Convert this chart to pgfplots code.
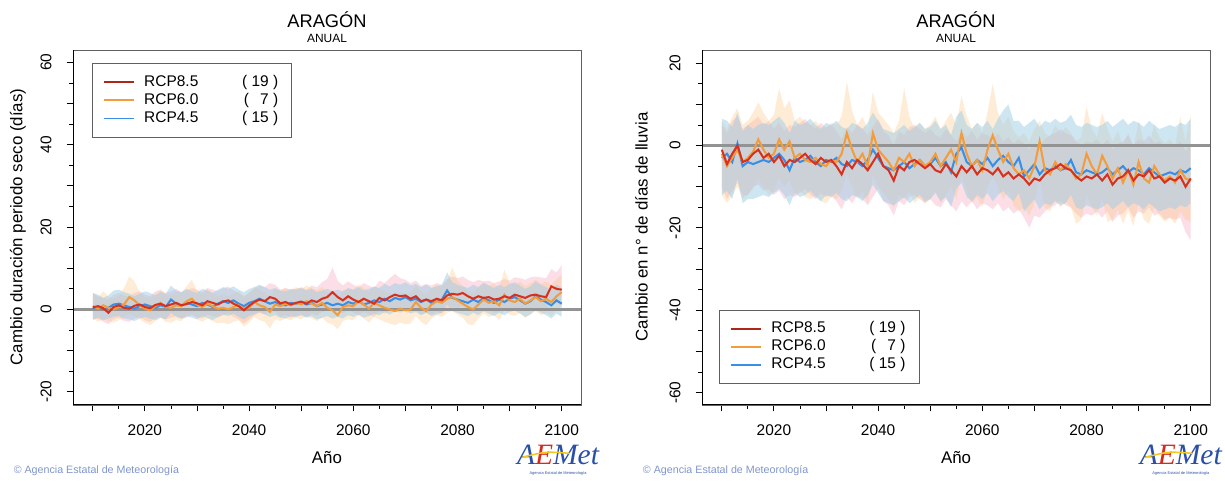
\documentclass[border=0pt]{standalone}
\usepackage{fontspec}
\setmainfont{Liberation Sans}
\newfontfamily\logofont{Liberation Serif}
\usepackage{pgfplots}
\usepackage{pgfplotstable}
\pgfplotsset{compat=1.18}
\usepgfplotslibrary{fillbetween}

\definecolor{c85}{HTML}{D7301F}
\definecolor{c60}{HTML}{F39C3C}
\definecolor{c45}{HTML}{3A8EE6}
\definecolor{b85}{HTML}{F4A3BA}
\definecolor{b60}{HTML}{FDC98C}
\definecolor{b45}{HTML}{9CCDE6}
\definecolor{aemblue}{HTML}{2A4FA8}
\definecolor{aemred}{HTML}{D42A20}
\definecolor{aemyellow}{HTML}{F2C81E}

% year, medias por escenario y rango (min/max) de cada uno
\pgfplotstableread{
year r85 r60 r45 lo85 hi85 lo60 hi60 lo45 hi45
2010 0.5 0.8 0.2 -2.6 3.8 -2.0 4.2 -2.4 4.0
2011 0.8 0.2 0.6 -2.2 3.2 -3.0 3.0 -2.0 3.6
2012 0.3 1.0 0.0 -3.0 2.8 -2.4 4.4 -2.6 2.8
2013 -0.8 0.4 0.4 -3.6 2.4 -2.8 3.2 -2.2 3.4
2014 0.6 0.0 1.2 -2.4 3.6 -3.2 2.6 -1.8 4.6
2015 1.0 0.6 1.4 -2.0 4.0 -2.6 3.4 -1.6 4.8
2016 0.4 1.2 1.0 -2.8 3.4 -2.0 5.2 -2.2 4.2
2017 0.2 3.0 0.6 -3.0 3.0 -1.0 8.0 -2.4 3.8
2018 0.9 2.2 0.2 -2.2 4.0 -1.6 6.8 -2.8 3.2
2019 1.2 1.0 0.8 -1.8 4.4 -2.4 4.2 -2.2 3.8
2020 0.6 0.2 1.2 -2.6 3.6 -3.2 3.0 -1.8 4.4
2021 0.3 -0.2 0.8 -3.0 3.2 -3.8 2.8 -2.2 4.0
2022 1.1 0.8 0.4 -2.0 4.4 -2.8 3.8 -2.6 3.4
2023 1.4 1.6 1.0 -1.8 4.8 -2.0 4.6 -2.0 4.2
2024 0.8 0.6 0.6 -2.4 4.0 -3.0 3.6 -2.4 3.8
2025 1.2 0.4 2.4 -2.0 4.4 -3.2 3.4 -0.8 5.8
2026 1.6 1.0 1.4 -1.6 5.0 -2.6 4.2 -1.8 4.6
2027 1.0 0.8 1.0 -2.2 4.2 -2.8 4.0 -2.2 4.2
2028 1.3 2.0 1.6 -2.0 4.6 -1.6 5.6 -1.6 5.0
2029 1.8 2.6 1.2 -1.4 5.2 -1.0 7.2 -2.0 4.4
2030 1.5 1.2 0.8 -1.8 4.8 -2.4 4.6 -2.4 4.0
2031 1.0 0.6 1.6 -2.2 4.2 -3.0 3.8 -1.6 5.0
2032 2.0 1.4 1.2 -1.2 5.2 -2.2 5.0 -2.0 4.6
2033 1.6 0.8 0.6 -1.6 4.8 -2.8 4.0 -2.6 4.0
2034 1.2 0.2 1.4 -2.0 4.4 -3.4 3.2 -1.8 4.8
2035 1.9 0.4 2.0 -1.4 5.2 -3.2 3.6 -1.2 5.4
2036 2.2 0.0 1.6 -1.0 5.6 -3.6 3.2 -1.6 5.0
2037 1.4 0.6 2.2 -1.8 4.6 -3.0 3.8 -1.0 5.6
2038 0.8 1.0 1.4 -2.4 4.0 -2.6 4.4 -1.8 4.8
2039 -0.2 0.2 0.8 -3.4 3.0 -4.2 3.4 -2.4 4.2
2040 0.9 0.4 1.6 -2.4 4.2 -3.2 3.8 -1.6 5.0
2041 1.8 1.8 2.0 -1.4 5.0 -1.8 5.6 -1.2 5.4
2042 2.4 1.0 2.6 -0.8 5.8 -2.6 4.6 -0.6 6.0
2043 2.0 0.6 2.0 -1.2 5.4 -3.0 4.2 -1.2 5.4
2044 3.0 -0.6 1.4 -0.2 6.4 -4.6 3.0 -1.8 4.8
2045 2.6 1.2 1.8 -0.6 6.0 -2.4 5.0 -1.4 5.2
2046 1.5 0.8 1.2 -1.8 4.8 -2.8 4.6 -2.0 4.6
2047 1.8 1.4 1.0 -1.4 5.2 -2.2 5.2 -2.2 4.4
2048 1.2 1.0 1.6 -2.0 4.6 -2.6 4.8 -1.6 5.0
2049 1.6 1.6 1.4 -1.6 5.0 -2.0 5.4 -1.8 4.8
2050 1.9 1.2 1.8 -1.2 5.4 -2.4 5.0 -1.4 5.2
2051 1.4 2.0 1.2 -1.8 4.8 -1.6 5.8 -2.0 4.6
2052 2.2 1.4 1.6 -1.0 5.8 -2.2 5.2 -1.6 5.0
2053 1.8 0.8 0.8 -1.4 5.4 -2.8 4.6 -2.4 4.2
2054 2.6 1.6 1.2 -0.6 6.6 -2.0 5.4 -2.0 4.6
2055 3.0 0.4 1.6 -0.2 7.4 -3.2 4.2 -1.6 5.0
2056 4.2 -0.2 1.0 0.8 10.2 -3.6 3.6 -2.2 4.4
2057 3.0 -1.4 1.4 -0.2 7.0 -4.8 2.6 -1.8 4.8
2058 2.2 0.6 1.0 -1.0 5.8 -2.8 4.6 -2.2 4.4
2059 3.2 1.0 1.8 0.0 6.8 -2.4 5.0 -1.4 5.2
2060 2.4 0.8 1.4 -0.8 6.0 -2.6 4.8 -1.8 4.8
2061 1.8 2.0 2.0 -1.4 5.4 -1.4 6.0 -1.2 5.4
2062 2.6 1.2 1.2 -0.6 6.4 -2.2 5.2 -2.0 4.6
2063 2.0 0.2 1.6 -1.2 5.8 -3.2 4.2 -1.6 5.0
2064 1.4 1.6 2.2 -1.8 5.2 -1.8 5.6 -1.0 5.6
2065 2.8 1.0 1.8 -0.4 7.0 -2.4 5.0 -1.4 5.2
2066 2.2 0.4 2.6 -1.0 6.4 -3.0 4.4 -0.6 6.2
2067 3.0 0.0 2.0 -0.2 7.6 -3.4 4.0 -1.2 5.6
2068 3.6 -0.4 2.8 0.4 8.6 -3.8 3.6 -0.4 6.4
2069 3.2 0.2 2.4 0.0 7.6 -3.2 4.2 -0.8 6.0
2070 3.4 -0.2 3.0 0.2 7.2 -3.6 3.8 -0.2 6.6
2071 2.6 0.0 2.2 -0.6 6.4 -3.4 4.0 -1.0 5.8
2072 3.2 1.8 2.6 0.0 7.0 -1.6 5.8 -0.6 6.2
2073 2.0 0.4 1.8 -1.2 5.8 -3.0 4.4 -1.4 5.4
2074 2.4 -0.4 2.4 -0.8 6.2 -3.8 3.6 -0.8 6.0
2075 2.0 1.2 1.6 -1.2 5.8 -2.2 5.2 -1.6 5.2
2076 2.6 2.0 2.0 -0.6 6.4 -1.4 6.0 -1.2 5.6
2077 2.2 1.6 2.4 -1.0 6.0 -1.8 5.6 -0.8 6.0
2078 3.4 2.6 4.6 0.2 7.4 -0.8 6.8 1.2 9.0
2079 3.8 3.0 2.8 0.6 8.0 -0.4 10.2 -0.4 6.6
2080 3.6 2.2 2.4 0.4 7.6 -1.2 7.0 -0.8 6.0
2081 4.0 1.4 2.0 0.8 8.0 -2.0 5.8 -1.2 5.6
2082 3.2 0.6 1.6 0.0 7.2 -3.6 4.6 -1.6 5.2
2083 2.6 0.0 2.4 -0.6 6.6 -3.8 4.0 -0.8 6.0
2084 3.2 1.2 1.8 0.0 7.2 -2.2 5.4 -1.4 5.4
2085 2.8 2.4 2.8 -0.4 6.8 -1.0 6.6 -0.4 6.4
2086 3.0 1.6 2.2 -0.2 7.0 -1.8 5.8 -1.0 5.8
2087 2.4 2.0 1.6 -0.8 6.4 -1.4 6.2 -1.6 5.2
2088 2.6 1.0 2.4 -0.6 6.8 -2.6 5.2 -0.8 6.0
2089 3.2 3.6 1.8 0.0 7.4 -0.2 9.6 -1.4 5.4
2090 2.8 2.2 2.6 -0.4 7.0 -1.2 6.4 -0.6 6.2
2091 3.6 1.8 3.0 0.4 7.8 -1.6 6.0 -0.2 6.6
2092 3.2 2.6 2.2 0.0 7.6 -0.8 6.8 -1.0 5.8
2093 2.8 1.4 1.4 -0.4 7.2 -2.0 5.6 -1.8 5.0
2094 3.4 2.2 2.0 0.2 7.8 -1.2 6.4 -1.2 5.6
2095 3.6 3.0 3.2 0.4 8.0 -0.4 7.2 0.0 6.8
2096 3.2 2.0 2.4 0.0 7.8 -1.4 6.2 -0.8 6.0
2097 3.0 2.6 1.8 -0.2 7.6 -0.8 6.8 -1.4 5.4
2098 5.6 1.8 1.0 2.0 9.8 -1.6 6.0 -2.2 4.6
2099 5.0 3.2 2.2 1.4 9.0 -0.2 7.4 -1.0 6.0
2100 4.8 4.2 1.4 1.0 10.8 0.8 8.4 -1.8 5.2
}\seco

\pgfplotstableread{
year r85 r60 r45 lo85 hi85 lo60 hi60 lo45 hi45
2010 -1.0 -2.0 -3.0 -10.0 5.0 -12.0 6.0 -12.0 6.5
2011 -4.5 -5.0 -2.0 -13.0 3.0 -14.0 4.0 -11.0 6.0
2012 -2.0 -3.0 -4.0 -11.0 6.0 -12.0 7.0 -13.0 4.5
2013 0.0 -1.0 0.5 -9.0 7.0 -10.0 9.0 -8.0 8.0
2014 -4.0 -4.0 -5.0 -12.0 4.0 -13.0 5.0 -14.0 3.5
2015 -3.5 -3.0 -4.0 -12.0 5.0 -12.0 6.0 -13.0 5.0
2016 -2.0 -1.5 -4.5 -10.0 6.0 -10.5 8.0 -13.0 4.0
2017 -1.0 1.5 -4.0 -9.5 7.0 -8.0 10.5 -12.5 5.0
2018 -3.0 -1.0 -3.5 -11.0 5.0 -10.0 8.0 -12.0 5.5
2019 -2.0 -3.0 -4.0 -10.5 6.0 -12.0 6.0 -12.5 5.0
2020 -4.0 -2.0 -3.0 -12.0 4.0 -11.0 7.5 -11.5 6.0
2021 -2.5 1.5 -2.0 -11.0 5.5 -8.0 14.0 -10.5 7.0
2022 -5.0 -1.0 -3.5 -13.0 3.5 -10.0 9.0 -12.0 5.5
2023 -3.5 1.0 -6.0 -12.0 5.0 -8.5 11.0 -14.5 3.0
2024 -4.0 -3.0 -3.0 -12.5 4.5 -12.0 6.0 -11.5 6.0
2025 -3.0 -2.0 -4.0 -11.5 5.5 -11.0 7.0 -12.5 5.0
2026 -2.0 -3.5 -3.5 -10.5 6.5 -12.5 5.5 -12.0 5.5
2027 -3.5 -4.0 -2.5 -12.0 5.0 -13.0 5.0 -11.0 6.5
2028 -4.5 -3.0 -4.0 -13.0 4.0 -12.0 6.0 -12.5 5.0
2029 -3.0 -4.5 -5.0 -11.5 5.5 -13.5 4.5 -13.5 4.0
2030 -4.0 -5.0 -3.5 -12.5 4.5 -14.0 4.0 -12.0 5.5
2031 -3.5 -3.5 -4.0 -12.0 5.0 -12.5 5.5 -12.5 5.0
2032 -5.0 -4.0 -3.0 -13.5 3.5 -13.0 5.0 -11.5 6.0
2033 -7.0 -2.0 -4.5 -15.5 1.5 -11.0 7.0 -13.0 4.5
2034 -4.0 3.0 -5.0 -12.5 4.5 -7.0 15.5 -13.5 4.0
2035 -5.5 -1.0 -3.5 -14.0 3.0 -10.0 8.5 -12.0 5.5
2036 -3.5 -4.0 -4.0 -12.0 5.0 -13.0 5.0 -12.5 5.0
2037 -4.5 -2.0 -5.0 -13.0 4.0 -11.0 7.0 -13.5 4.0
2038 -6.0 -5.0 -3.5 -14.5 2.5 -14.0 4.0 -12.0 5.5
2039 -4.0 3.0 -1.0 -12.5 4.5 -7.0 13.0 -9.5 8.0
2040 -2.0 -1.0 -3.0 -10.5 6.5 -10.0 8.0 -11.5 6.0
2041 -5.0 -2.5 -5.0 -13.5 3.5 -11.5 6.5 -13.5 4.0
2042 -6.0 -4.0 -5.5 -14.5 2.5 -13.0 5.0 -14.0 3.5
2043 -8.5 -6.0 -6.0 -17.0 0.0 -15.0 3.0 -14.5 3.0
2044 -5.0 -3.0 -5.0 -13.5 3.5 -12.0 6.0 -13.5 4.0
2045 -6.0 -4.0 -4.0 -14.5 2.5 -13.0 14.0 -12.5 5.0
2046 -4.0 -2.0 -5.5 -12.5 4.5 -11.0 7.0 -14.0 3.5
2047 -3.5 -5.0 -4.5 -12.0 5.0 -14.0 4.0 -13.0 4.5
2048 -4.5 -3.5 -3.5 -13.0 4.0 -12.5 5.5 -12.0 5.5
2049 -5.5 -5.0 -5.0 -14.0 3.0 -14.0 4.0 -13.5 4.0
2050 -4.5 -4.0 -4.5 -13.0 4.0 -13.0 5.0 -13.0 4.5
2051 -6.0 -2.0 -3.0 -14.5 2.5 -11.0 7.0 -11.5 6.0
2052 -6.5 -5.0 -5.0 -15.0 2.0 -14.0 4.0 -13.5 4.0
2053 -4.5 -3.0 -4.0 -13.0 4.0 -12.0 6.0 -12.5 5.0
2054 -6.0 -1.0 -6.5 -14.5 2.5 -10.0 8.0 -15.0 2.5
2055 -7.5 -4.0 -2.0 -16.0 1.0 -13.0 5.0 -10.5 7.0
2056 -5.0 3.0 -0.5 -13.5 3.5 -7.0 12.0 -9.0 8.5
2057 -6.5 -2.0 -4.0 -15.0 2.0 -11.0 7.0 -12.5 5.0
2058 -5.0 -5.0 -5.0 -13.5 3.5 -14.0 4.0 -13.5 4.0
2059 -7.0 -3.5 -3.5 -15.5 1.5 -12.5 5.5 -12.0 5.5
2060 -5.5 -6.0 -4.5 -14.0 3.0 -15.0 3.0 -13.0 4.5
2061 -6.0 -1.0 -3.0 -14.5 2.5 -10.0 8.0 -11.5 6.0
2062 -7.0 2.5 -5.0 -15.5 1.5 -7.5 15.0 -13.5 4.0
2063 -5.5 -1.0 -3.5 -14.0 3.0 -10.0 8.0 -12.0 6.5
2064 -7.5 -4.0 -2.5 -16.0 1.0 -13.0 5.0 -11.0 8.5
2065 -6.5 -2.0 -4.0 -15.0 2.0 -11.0 7.0 -12.5 10.0
2066 -8.0 -5.5 -5.0 -16.5 0.5 -14.5 3.5 -13.5 6.0
2067 -7.0 -7.0 -3.0 -15.5 1.5 -16.0 2.0 -11.5 6.0
2068 -8.0 -6.0 -7.5 -17.5 0.5 -15.0 3.0 -16.0 4.5
2069 -9.5 -8.0 -6.0 -20.0 -1.0 -17.0 1.0 -14.5 5.5
2070 -8.0 -5.0 -4.5 -17.0 0.5 -14.0 4.0 -13.0 6.5
2071 -8.5 1.0 -7.0 -17.5 0.0 -8.0 6.0 -15.5 4.5
2072 -7.0 -6.0 -5.5 -16.0 1.5 -15.0 3.0 -14.0 6.0
2073 -6.0 -7.0 -6.0 -15.0 2.5 -16.0 2.0 -14.5 5.5
2074 -5.5 -4.0 -5.0 -14.5 3.0 -13.0 5.0 -13.5 6.5
2075 -4.5 -6.0 -6.0 -13.5 4.0 -15.0 3.0 -14.5 5.5
2076 -5.5 -4.5 -5.5 -14.5 3.0 -13.5 4.5 -14.0 6.0
2077 -6.0 -6.0 -3.5 -15.0 2.5 -15.0 3.0 -12.0 7.5
2078 -7.5 -8.0 -6.5 -16.5 1.0 -19.0 1.0 -15.0 5.0
2079 -8.5 -7.0 -7.0 -17.5 0.0 -18.0 2.0 -15.5 4.5
2080 -7.5 -2.0 -6.0 -16.5 1.0 -12.0 9.5 -14.5 5.5
2081 -8.0 -5.0 -6.5 -17.0 0.5 -15.0 4.0 -15.0 5.0
2082 -7.0 -7.0 -7.0 -16.0 1.5 -17.0 2.0 -15.5 4.5
2083 -8.5 -2.5 -6.5 -17.5 0.0 -12.5 8.0 -15.0 5.0
2084 -7.0 -5.0 -5.5 -16.0 1.5 -18.5 4.0 -14.0 6.0
2085 -9.5 -8.0 -7.0 -18.5 -1.0 -18.0 1.0 -15.5 4.5
2086 -8.0 -5.5 -6.0 -17.0 0.5 -15.5 3.5 -14.5 5.5
2087 -7.5 -9.0 -5.0 -16.5 1.0 -19.0 0.0 -13.5 6.5
2088 -6.0 -6.0 -6.5 -15.0 2.5 -16.0 3.0 -15.0 5.0
2089 -8.5 -9.5 -5.5 -17.5 0.0 -19.5 -0.5 -14.0 6.0
2090 -7.0 -4.0 -6.0 -16.0 1.5 -14.0 6.0 -14.5 5.5
2091 -7.5 -8.0 -7.0 -16.5 1.0 -18.0 1.0 -15.5 4.5
2092 -6.0 -9.0 -5.5 -15.0 2.5 -19.0 0.0 -14.0 6.0
2093 -8.0 -5.0 -6.5 -17.0 0.5 -15.0 5.0 -15.0 5.0
2094 -7.5 -7.0 -7.5 -16.5 1.0 -17.0 2.0 -16.0 4.0
2095 -9.0 -8.5 -7.0 -18.0 -0.5 -18.5 0.5 -15.5 4.5
2096 -8.0 -7.5 -6.5 -17.5 0.5 -17.5 1.5 -15.0 5.0
2097 -8.5 -9.0 -7.0 -18.0 0.0 -19.0 0.0 -15.5 4.5
2098 -7.5 -6.0 -6.0 -17.5 1.0 -16.0 7.0 -14.5 5.5
2099 -10.0 -8.0 -6.5 -21.0 -1.5 -18.0 1.0 -15.0 5.0
2100 -8.0 -8.5 -5.5 -23.0 0.5 -18.5 7.5 -14.0 6.5
}\lluvia

\pgfplotsset{
  aemet/.style={
    scale only axis, width=127mm, height=88.75mm,
    xmin=2006.2, xmax=2103.7,
    axis line style={gray!75!black, line width=0.5pt},
    tick align=outside, xtick pos=bottom, ytick pos=left,
    major tick length=1.6mm, minor tick length=0.9mm,
    every tick/.style={black, line width=0.6pt},
    xtick={2010,2020,...,2100},
    xticklabels={,2020,,2040,,2060,,2080,,2100},
    minor xtick={2015,2025,...,2095},
    minor y tick num=1,
    ticklabel style={font=\fontsize{11}{12}\selectfont},
    /pgf/number format/assume math mode=true,
    xticklabel style={yshift=-2mm},
    yticklabel style={rotate=90, anchor=south, yshift=2.5mm},
    legend cell align=left,
    legend image code/.code={\draw[##1] (0mm,0mm) -- (7.5mm,0mm);},
    legend style={draw=gray!75!black, line width=0.5pt,
      font=\fontsize{11}{12}\selectfont,
      nodes={text height=8.5pt, text depth=3pt, inner ysep=0.7pt, inner xsep=0.8mm},
      column sep=1.6mm, inner xsep=2.6mm, inner ysep=2.4mm},
  },
  linea/.style={line width=1.45pt},
  banda/.style={draw=none, fill opacity=0.36},
}

\newcommand{\bandas}[1]{%
  \addplot[draw=none, forget plot, name path=h85] table[x=year, y=hi85] {#1};
  \addplot[draw=none, forget plot, name path=l85] table[x=year, y=lo85] {#1};
  \addplot[banda, fill=b85, forget plot] fill between[of=h85 and l85];
  \addplot[draw=none, forget plot, name path=h60] table[x=year, y=hi60] {#1};
  \addplot[draw=none, forget plot, name path=l60] table[x=year, y=lo60] {#1};
  \addplot[banda, fill=b60, forget plot] fill between[of=h60 and l60];
  \addplot[draw=none, forget plot, name path=h45] table[x=year, y=hi45] {#1};
  \addplot[draw=none, forget plot, name path=l45] table[x=year, y=lo45] {#1};
  \addplot[banda, fill=b45, fill opacity=0.5, forget plot] fill between[of=h45 and l45];
  \addplot[gray!85, line width=1.7pt, forget plot] coordinates {(2006.2,0) (2103.7,0)};
  \addplot[linea, c45, forget plot] table[x=year, y=r45] {#1};
  \addplot[linea, c60, forget plot] table[x=year, y=r60] {#1};
  \addplot[linea, c85, forget plot] table[x=year, y=r85] {#1};
  \draw[black, line width=1.3pt] (rel axis cs:0,0) -- (rel axis cs:1,0);
  \draw[black, line width=0.6pt] (rel axis cs:0,0) -- (rel axis cs:0,1);
}

\newcommand{\leyenda}{%
  \addlegendimage{c85!80!black, line width=1.3pt}
  \addlegendentry{\makebox[24mm][l]{RCP8.5}\makebox[9.5mm][r]{( 19 )}}
  \addlegendimage{c60, line width=1.3pt}
  \addlegendentry{\makebox[24mm][l]{RCP6.0}\makebox[9.5mm][r]{(\phantom{1}\,7 )}}
  \addlegendimage{c45, line width=1.3pt}
  \addlegendentry{\makebox[24mm][l]{RCP4.5}\makebox[9.5mm][r]{( 15 )}}
}

\newcommand{\logo}[1]{%
  \node[inner sep=0pt] at (#1,5.9mm) {\logofont\itshape\fontsize{21}{21}\selectfont
    \textcolor{aemblue}{A}\textcolor{aemred}{E}\textcolor{aemblue}{Met}};
  \draw[aemyellow, line width=1.1pt] ([xshift=-9mm]#1,5.4mm) .. controls ([xshift=-3mm]#1,6.9mm) .. ([xshift=3mm]#1,6.4mm);
  \node[inner sep=0pt, text=aemblue] at (#1,1.3mm) {\fontsize{2.8}{3}\selectfont Agencia Estatal de Meteorología};
}

\begin{document}
\begin{tikzpicture}
\path (0,0) rectangle (306.25mm,119.75mm);

% panel izquierdo: duracion periodo seco
\begin{axis}[aemet, at={(18.25mm,18.5mm)}, anchor=south west,
  ymin=-23.2, ymax=63,
  ytick={-20,-10,...,60},
  yticklabels={-20,,0,,20,,40,,60},
  legend style={at={(rel axis cs:0.0375,0.963)}, anchor=north west}]
\leyenda
\bandas{\seco}
\end{axis}

% panel derecho: dias de lluvia
\begin{axis}[aemet, at={(175.5mm,18.5mm)}, anchor=south west,
  ymin=-63, ymax=23.2,
  ytick={-60,-50,...,20},
  yticklabels={-60,,-40,,-20,,0,,20},
  legend style={at={(rel axis cs:0.034,0.059)}, anchor=south west}]
\leyenda
\bandas{\lluvia}
\end{axis}

% titulos y rotulos
\foreach \cx in {81.75mm, 239mm} {
  \node[font=\fontsize{13}{14}\selectfont] at (\cx,114.75mm) {ARAGÓN};
  \node[font=\fontsize{8.5}{9}\selectfont] at (\cx,110.2mm) {ANUAL};
  \node[font=\fontsize{12}{13}\selectfont] at (\cx,5.25mm) {Año};
}
\node[rotate=90, font=\fontsize{12}{13}\selectfont] at (4.45mm,63mm) {Cambio duración periodo seco (días)};
\node[rotate=90, font=\fontsize{12}{13}\selectfont] at (160.4mm,63mm) {Cambio en n° de días de lluvia};

\node[anchor=west, text=aemblue!60, font=\fontsize{7.6}{8}\selectfont] at (2.2mm,2mm) {© Agencia Estatal de Meteorología};
\node[anchor=west, text=aemblue!60, font=\fontsize{7.6}{8}\selectfont] at (159.5mm,2mm) {© Agencia Estatal de Meteorología};

\logo{139.5mm}
\logo{295.2mm}
\end{tikzpicture}
\end{document}
